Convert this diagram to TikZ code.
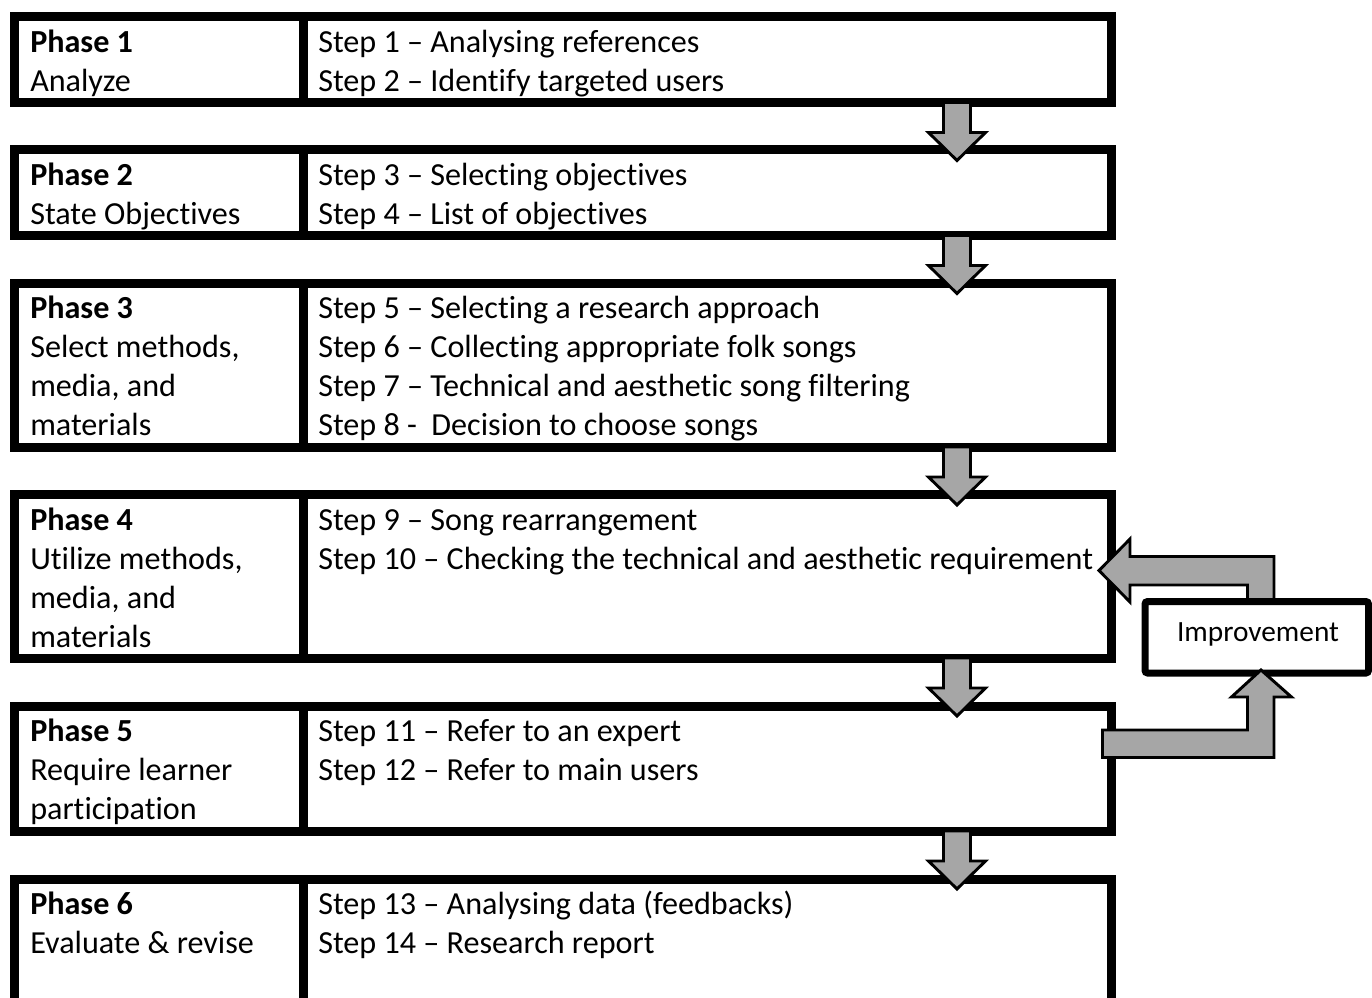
\documentclass[tikz,border=0pt]{standalone}
\usepackage{fontspec}
\setmainfont{Carlito}[Ligatures=NoCommon]
\usepackage{xcolor}

\begin{document}
\begin{tikzpicture}[x=0.75pt,y=0.75pt,yscale=-1,xscale=1,
  phasebox/.style={line width=6.75pt},
  grayarrow/.style={fill={rgb, 255:red, 166; green, 166; blue, 166 },draw=black,line width=2.2pt,line join=miter},
  phasetext/.style={anchor=north west,inner sep=0pt,align=left,font=\fontsize{24.1}{29.25}\selectfont}]

\useasboundingbox (0,0) rectangle (1372,997);

% phase boxes
\draw [phasebox]  (14.5,16.5) rectangle (1111.5,102.5) ;
\draw [phasebox]  (303,16.5) -- (303,102.5) ;
\draw [phasebox]  (14.5,149.5) rectangle (1111.5,235.5) ;
\draw [phasebox]  (303,149.5) -- (303,235.5) ;
\draw [phasebox]  (14.5,283.5) rectangle (1111.5,447) ;
\draw [phasebox]  (303,283.5) -- (303,447) ;
\draw [phasebox]  (14.5,494.5) rectangle (1111.5,658) ;
\draw [phasebox]  (303,494.5) -- (303,658) ;
\draw [phasebox]  (14.5,706.5) rectangle (1111.5,831) ;
\draw [phasebox]  (303,706.5) -- (303,831) ;
\draw [phasebox]  (14.5,1010) -- (14.5,879.5) -- (1111.5,879.5) -- (1111.5,1010) ;
\draw [phasebox]  (303,879.5) -- (303,1010) ;

% texts
\node [phasetext] (ph1) at (30,25) {\strut\textbf{Phase 1}\\Analyze};
\node [phasetext] (st1) at (318,25) {\strut Step 1 -- Analysing references\\Step 2 -- Identify targeted users};
\node [phasetext] (ph2) at (30,158) {\strut\textbf{Phase 2}\\State Objectives};
\node [phasetext] (st2) at (318,158) {\strut Step 3 -- Selecting objectives\\Step 4 -- List of objectives};
\node [phasetext] (ph3) at (30,291) {\strut\textbf{Phase 3}\\Select methods,\\media, and\\materials};
\node [phasetext] (st3) at (318,291) {\strut Step 5 -- Selecting a research approach\\Step 6 -- Collecting appropriate folk songs\\Step 7 -- Technical and aesthetic song filtering\\Step 8 -\ \ Decision to choose songs};
\node [phasetext] (ph4) at (30,503) {\strut\textbf{Phase 4}\\Utilize methods,\\media, and\\materials};
\node [phasetext] (st4) at (318,503) {\strut Step 9 -- Song rearrangement\\Step 10 -- Checking the technical and aesthetic requirement};
\node [phasetext] (ph5) at (30,714) {\strut\textbf{Phase 5}\\Require learner\\participation};
\node [phasetext] (st5) at (318,714) {\strut Step 11 -- Refer to an expert\\Step 12 -- Refer to main users};
\node [phasetext] (ph6) at (30,887) {\strut\textbf{Phase 6}\\Evaluate \& revise};
\node [phasetext] (st6) at (318,887) {\strut Step 13 -- Analysing data (feedbacks)\\Step 14 -- Research report};

% arrows between phases
\foreach \s in {102.5,235.5,447,658,831} {
\draw [grayarrow]  (943.5,\s) -- (970.5,\s) -- (970.5,\s+30) -- (985.5,\s+30) -- (957,\s+58) -- (928.5,\s+30) -- (943.5,\s+30) -- cycle ;
}

% improvement loop
\draw [grayarrow]  (1247.5,605) -- (1247.5,585) -- (1130,585) -- (1130,602) -- (1099,570.5) -- (1130,539) -- (1130,556.5) -- (1274,556.5) -- (1274,605) -- cycle ;
\draw [line width=5.25pt,rounded corners=2pt,fill=white]  (1145,601.5) rectangle (1368.5,673) ;
\node [inner sep=0pt,font=\fontsize{22}{26}\selectfont] (imp) at (1258,634) {Improvement};
\draw [grayarrow]  (1102.5,730) -- (1247.5,730) -- (1247.5,697) -- (1231.5,697) -- (1261,670) -- (1291.5,697) -- (1274,697) -- (1274,757.5) -- (1102.5,757.5) -- cycle ;

\end{tikzpicture}
\end{document}
